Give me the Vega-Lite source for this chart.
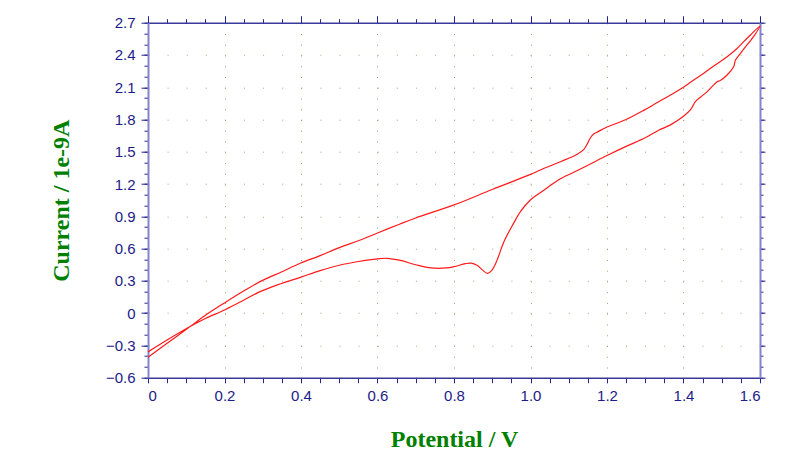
{
  "$schema": "https://vega.github.io/schema/vega-lite/v6.json",
  "width": 612,
  "height": 355,
  "autosize": "none",
  "padding": {"left": 148, "top": 22.7, "right": 40, "bottom": 92},
  "background": "white",
  "config": {"view": {"stroke": null}},
  "datasets": {
    "cv": [
      {"s": 1, "V": 0.0, "I": -0.36},
      {"s": 2, "V": 0.05, "I": -0.25},
      {"s": 3, "V": 0.11, "I": -0.125},
      {"s": 4, "V": 0.15, "I": -0.05},
      {"s": 5, "V": 0.2, "I": 0.03},
      {"s": 6, "V": 0.25, "I": 0.12},
      {"s": 7, "V": 0.29, "I": 0.195},
      {"s": 8, "V": 0.34, "I": 0.265},
      {"s": 9, "V": 0.4, "I": 0.335},
      {"s": 10, "V": 0.45, "I": 0.395},
      {"s": 11, "V": 0.5, "I": 0.445},
      {"s": 12, "V": 0.55, "I": 0.48},
      {"s": 13, "V": 0.6, "I": 0.505},
      {"s": 14, "V": 0.625, "I": 0.51},
      {"s": 15, "V": 0.66, "I": 0.49},
      {"s": 16, "V": 0.7, "I": 0.45},
      {"s": 17, "V": 0.74, "I": 0.42},
      {"s": 18, "V": 0.78, "I": 0.42},
      {"s": 19, "V": 0.8, "I": 0.432},
      {"s": 20, "V": 0.83, "I": 0.46},
      {"s": 21, "V": 0.845, "I": 0.465},
      {"s": 22, "V": 0.86, "I": 0.445},
      {"s": 23, "V": 0.875, "I": 0.4},
      {"s": 24, "V": 0.887, "I": 0.37},
      {"s": 25, "V": 0.897, "I": 0.39},
      {"s": 26, "V": 0.91, "I": 0.47},
      {"s": 27, "V": 0.93, "I": 0.66},
      {"s": 28, "V": 0.955, "I": 0.83},
      {"s": 29, "V": 0.975, "I": 0.95},
      {"s": 30, "V": 0.999, "I": 1.05},
      {"s": 31, "V": 1.03, "I": 1.13},
      {"s": 32, "V": 1.073, "I": 1.238},
      {"s": 33, "V": 1.113, "I": 1.31},
      {"s": 34, "V": 1.15, "I": 1.375},
      {"s": 35, "V": 1.2, "I": 1.465},
      {"s": 36, "V": 1.25, "I": 1.55},
      {"s": 37, "V": 1.3, "I": 1.63},
      {"s": 38, "V": 1.335, "I": 1.7},
      {"s": 39, "V": 1.366, "I": 1.75},
      {"s": 40, "V": 1.4, "I": 1.83},
      {"s": 41, "V": 1.418, "I": 1.889},
      {"s": 42, "V": 1.431, "I": 1.966},
      {"s": 43, "V": 1.445, "I": 2.01},
      {"s": 44, "V": 1.462, "I": 2.059},
      {"s": 45, "V": 1.488, "I": 2.152},
      {"s": 46, "V": 1.495, "I": 2.16},
      {"s": 47, "V": 1.514, "I": 2.214},
      {"s": 48, "V": 1.531, "I": 2.29},
      {"s": 49, "V": 1.536, "I": 2.353},
      {"s": 50, "V": 1.55, "I": 2.42},
      {"s": 51, "V": 1.566, "I": 2.493},
      {"s": 52, "V": 1.585, "I": 2.58},
      {"s": 53, "V": 1.6, "I": 2.67},
      {"s": 54, "V": 1.575, "I": 2.586},
      {"s": 55, "V": 1.553, "I": 2.508},
      {"s": 56, "V": 1.54, "I": 2.46},
      {"s": 57, "V": 1.514, "I": 2.384},
      {"s": 58, "V": 1.48, "I": 2.3},
      {"s": 59, "V": 1.453, "I": 2.23},
      {"s": 60, "V": 1.42, "I": 2.15},
      {"s": 61, "V": 1.4, "I": 2.1},
      {"s": 62, "V": 1.366, "I": 2.028},
      {"s": 63, "V": 1.33, "I": 1.955},
      {"s": 64, "V": 1.296, "I": 1.885},
      {"s": 65, "V": 1.25, "I": 1.8},
      {"s": 66, "V": 1.2, "I": 1.73},
      {"s": 67, "V": 1.178, "I": 1.69},
      {"s": 68, "V": 1.165, "I": 1.665},
      {"s": 69, "V": 1.156, "I": 1.626},
      {"s": 70, "V": 1.148, "I": 1.57},
      {"s": 71, "V": 1.139, "I": 1.52},
      {"s": 72, "V": 1.121, "I": 1.475},
      {"s": 73, "V": 1.08, "I": 1.41},
      {"s": 74, "V": 1.026, "I": 1.331},
      {"s": 75, "V": 1.0, "I": 1.29},
      {"s": 76, "V": 0.9, "I": 1.15},
      {"s": 77, "V": 0.8, "I": 1.006},
      {"s": 78, "V": 0.7, "I": 0.885},
      {"s": 79, "V": 0.659, "I": 0.829},
      {"s": 80, "V": 0.6, "I": 0.745},
      {"s": 81, "V": 0.555, "I": 0.68},
      {"s": 82, "V": 0.5, "I": 0.609},
      {"s": 83, "V": 0.45, "I": 0.535},
      {"s": 84, "V": 0.398, "I": 0.464},
      {"s": 85, "V": 0.35, "I": 0.385},
      {"s": 86, "V": 0.293, "I": 0.293},
      {"s": 87, "V": 0.25, "I": 0.205},
      {"s": 88, "V": 0.2, "I": 0.095},
      {"s": 89, "V": 0.15, "I": -0.02},
      {"s": 90, "V": 0.11, "I": -0.125},
      {"s": 91, "V": 0.05, "I": -0.28},
      {"s": 92, "V": 0.0, "I": -0.41}
    ]
  },
  "data": {"name": "cv"},
  "resolve": {"axis": {"x": "independent", "y": "independent"}},
  "layer": [
    {
      "mark": {"type": "line", "strokeOpacity": 0},
      "encoding": {
        "x": {"field": "V", "type": "quantitative",
          "scale": {"domain": [0, 1.6], "nice": false, "zero": false},
          "axis": {"orient": "top", "values": [0,0.05,0.1,0.15,0.2,0.25,0.3,0.35,0.4,0.45,0.5,0.55,0.6,0.65,0.7,0.75,0.8,0.85,0.9,0.95,1.0,1.05,1.1,1.15,1.2,1.25,1.3,1.35,1.4,1.45,1.5,1.55,1.6],
            "labels": false, "title": null, "grid": false, "domain": false, "tickSize": 4, "tickColor": "#23238e", "tickWidth": 1}},
        "y": {"field": "I", "type": "quantitative",
          "scale": {"domain": [-0.6, 2.7], "nice": false, "zero": false},
          "axis": {"orient": "right", "values": [-0.6,-0.5,-0.4,-0.3,-0.2,-0.1,0,0.1,0.2,0.3,0.4,0.5,0.6,0.7,0.8,0.9,1.0,1.1,1.2,1.3,1.4,1.5,1.6,1.7,1.8,1.9,2.0,2.1,2.2,2.3,2.4,2.5,2.6,2.7],
            "labels": false, "title": null, "grid": false, "domain": false, "tickSize": 3, "tickColor": "#23238e", "tickWidth": 1}},
        "order": {"field": "s", "type": "quantitative"}
      }
    },
    {
      "mark": {"type": "line", "strokeOpacity": 0},
      "encoding": {
        "x": {"field": "V", "type": "quantitative",
          "axis": {"orient": "top", "values": [0,0.2,0.4,0.6,0.8,1.0,1.2,1.4,1.6],
            "labels": false, "title": null, "grid": false, "domain": true, "domainColor": "#3a3a9a", "domainWidth": 1.5, "tickSize": 7, "tickColor": "#23238e", "tickWidth": 1}},
        "y": {"field": "I", "type": "quantitative",
          "axis": {"orient": "right", "values": [-0.6,-0.3,0,0.3,0.6,0.9,1.2,1.5,1.8,2.1,2.4,2.7],
            "labels": false, "title": null, "grid": false, "domain": true, "domainColor": "#8484cc", "domainWidth": 2, "tickSize": 5, "tickColor": "#23238e", "tickWidth": 1}},
        "order": {"field": "s", "type": "quantitative"}
      }
    },
    {
      "mark": {"type": "line", "strokeOpacity": 0},
      "encoding": {
        "x": {"field": "V", "type": "quantitative",
          "axis": {"orient": "bottom", "values": [0,0.05,0.1,0.15,0.2,0.25,0.3,0.35,0.4,0.45,0.5,0.55,0.6,0.65,0.7,0.75,0.8,0.85,0.9,0.95,1.0,1.05,1.1,1.15,1.2,1.25,1.3,1.35,1.4,1.45,1.5,1.55,1.6],
            "labels": false, "title": null, "grid": false, "domain": false, "tickSize": 5, "tickColor": "#23238e", "tickWidth": 1}},
        "y": {"field": "I", "type": "quantitative",
          "axis": {"orient": "left", "values": [-0.6,-0.5,-0.4,-0.3,-0.2,-0.1,0,0.1,0.2,0.3,0.4,0.5,0.6,0.7,0.8,0.9,1.0,1.1,1.2,1.3,1.4,1.5,1.6,1.7,1.8,1.9,2.0,2.1,2.2,2.3,2.4,2.5,2.6,2.7],
            "labels": false, "title": null, "grid": false, "domain": false, "tickSize": 4, "tickColor": "#23238e", "tickWidth": 1}},
        "order": {"field": "s", "type": "quantitative"}
      }
    },
    {
      "mark": {"type": "line", "color": "#ff1a1a", "strokeWidth": 1.2, "interpolate": "catmull-rom"},
      "encoding": {
        "x": {"field": "V", "type": "quantitative",
          "axis": {"orient": "bottom", "values": [0,0.2,0.4,0.6,0.8,1.0,1.2,1.4,1.6],
            "labelExpr": "datum.value == 0 ? '0' : format(datum.value, '.1f')",
            "labelFont": "Liberation Sans", "labelFontSize": 15, "labelColor": "#1c1c8a", "labelPadding": 6,
            "title": "Potential / V", "titleFont": "Liberation Serif", "titleFontWeight": "bold", "titleFontSize": 24, "titleColor": "#008000",
            "titleX": 306, "titleY": 69, "titleAlign": "center", "titleBaseline": "alphabetic",
            "grid": true, "gridColor": "#9aaa70", "gridDash": [1, 9.76], "gridWidth": 1,
            "domain": true, "domainColor": "#3a3a9a", "domainWidth": 1.5, "tickSize": 5, "tickColor": "#23238e", "tickWidth": 1}},
        "y": {"field": "I", "type": "quantitative",
          "axis": {"orient": "left", "values": [-0.6,-0.3,0,0.3,0.6,0.9,1.2,1.5,1.8,2.1,2.4,2.7],
            "labelExpr": "datum.value == 0 ? '0' : format(datum.value, '.1f')",
            "labelFont": "Liberation Sans", "labelFontSize": 15, "labelColor": "#1c1c8a", "labelPadding": 6,
            "title": "Current / 1e-9A", "titleFont": "Liberation Serif", "titleFontWeight": "bold", "titleFontSize": 24, "titleColor": "#008000",
            "titleX": -80, "titleY": 177.5, "titleAngle": -90, "titleAlign": "center", "titleBaseline": "alphabetic",
            "grid": true, "gridColor": "#9aaa70", "gridDash": [1, 18.1], "gridWidth": 1,
            "domain": true, "domainColor": "#8484cc", "domainWidth": 2, "tickSize": 7, "tickColor": "#23238e", "tickWidth": 1}},
        "order": {"field": "s", "type": "quantitative"}
      }
    }
  ]
}
